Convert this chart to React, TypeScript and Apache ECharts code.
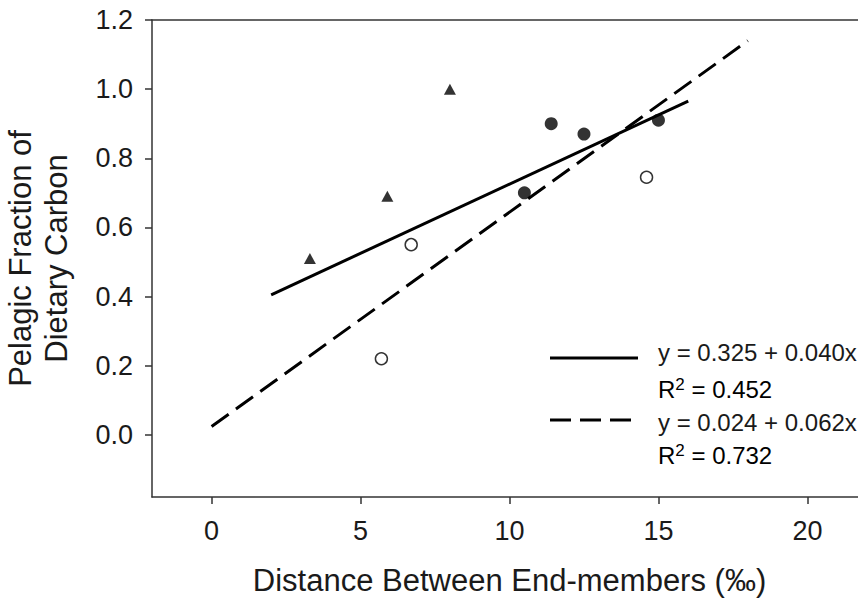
import React, { useEffect, useRef } from "react";
import * as echarts from "echarts";

// Data
const triangleX = [3.3, 5.9, 8.0];
const triangleY = [0.51, 0.69, 1.0];
const filledX = [10.5, 11.4, 12.5, 15.0];
const filledY = [0.7, 0.9, 0.87, 0.91];
const openX = [5.7, 6.7, 14.6];
const openY = [0.22, 0.55, 0.745];
const solidFitX = [2, 16];
const solidFitY = [0.405, 0.965];
const dashedFitX = [0, 18];
const dashedFitY = [0.024, 1.14];
const xTicks = [0, 5, 10, 15, 20];
const yTicks = [0, 0.2, 0.4, 0.6, 0.8, 1.0, 1.2];
const eqSolid = "y = 0.325 + 0.040x";
const r2Solid = "0.452";
const eqDashed = "y = 0.024 + 0.062x";
const r2Dashed = "0.732";
const xTitle = "Distance Between End-members (‰)";
const yTitle = "Pelagic Fraction of\nDietary Carbon";

const FONT = "'Liberation Sans', Arial, sans-serif";
const zip = (xs: number[], ys: number[]) => xs.map((x, i) => [x, ys[i]]);

export default function App() {
  const ref = useRef<HTMLDivElement>(null);
  useEffect(() => {
    document.body.style.margin = "0";
    document.body.style.overflow = "hidden";
    const chart = echarts.init(ref.current!, null, { renderer: "svg" });
    const axisCol = "#333";
    const txtCol = "#1a1a1a";
    const rich = {
      n: { fontSize: 24, fontFamily: FONT, color: txtCol, lineHeight: 27 },
      s: { fontSize: 17, fontFamily: FONT, color: txtCol, verticalAlign: "top", lineHeight: 27 },
    };
    chart.setOption({
      animation: false,
      backgroundColor: "#fff",
      grid: { left: 152, right: -9, top: 20, bottom: 103, containLabel: false, outerBoundsMode: "none" },
      xAxis: [
        {
          type: "value",
          min: -2,
          max: 22,
          name: xTitle,
          nameLocation: "middle",
          nameGap: 68,
          nameTextStyle: { fontSize: 31, fontFamily: FONT, color: txtCol },
          axisLine: { show: true, onZero: false, lineStyle: { color: axisCol, width: 1.5 } },
          axisTick: { show: true, length: 7, customValues: xTicks, lineStyle: { color: axisCol, width: 1.5 } },
          axisLabel: {
            customValues: xTicks,
            margin: 20,
            fontSize: 27,
            fontFamily: FONT,
            color: txtCol,
            formatter: (v: number) => String(v),
          },
          splitLine: { show: false },
        },
        {
          type: "value",
          position: "top",
          min: -2,
          max: 22,
          axisLine: { show: true, onZero: false, lineStyle: { color: axisCol, width: 1.5 } },
          axisTick: { show: false },
          axisLabel: { show: false },
          splitLine: { show: false },
        },
      ],
      yAxis: {
        type: "value",
        min: -0.18,
        max: 1.2,
        name: yTitle,
        nameLocation: "middle",
        nameGap: 78,
        nameRotate: 90,
        nameTextStyle: { fontSize: 31, fontFamily: FONT, color: txtCol, lineHeight: 36, align: "center" },
        axisLine: { show: true, onZero: false, lineStyle: { color: axisCol, width: 1.5 } },
        axisTick: { show: true, length: 7, customValues: yTicks, lineStyle: { color: axisCol, width: 1.5 } },
        axisLabel: {
          customValues: yTicks,
          margin: 19,
          fontSize: 27,
          fontFamily: FONT,
          color: txtCol,
          formatter: (v: number) => v.toFixed(1),
        },
        splitLine: { show: false },
      },
      series: [
        {
          type: "line",
          data: zip(solidFitX, solidFitY),
          showSymbol: false,
          symbol: "none",
          lineStyle: { color: "#000", width: 3 },
        },
        {
          type: "line",
          data: zip(dashedFitX, dashedFitY),
          showSymbol: false,
          symbol: "none",
          lineStyle: { color: "#000", width: 3, type: [21, 9] },
        },
        {
          type: "scatter",
          data: zip(triangleX, triangleY),
          symbol: "triangle",
          symbolSize: [12, 11],
          itemStyle: { color: "#000" },
        },
        {
          type: "scatter",
          data: zip(filledX, filledY),
          symbol: "circle",
          symbolSize: 13,
          itemStyle: { color: "#000" },
        },
        {
          type: "scatter",
          data: zip(openX, openY),
          symbol: "circle",
          symbolSize: 12,
          itemStyle: { color: "#fff", borderColor: "#000", borderWidth: 1.5 },
        },
      ],
      graphic: [
        { type: "line", shape: { x1: 550, y1: 358, x2: 638, y2: 358 }, style: { stroke: "#000", lineWidth: 3 } },
        {
          type: "line",
          shape: { x1: 550, y1: 420, x2: 638, y2: 420 },
          style: { stroke: "#000", lineWidth: 3, lineDash: [21, 9] },
        },
        {
          type: "text",
          x: 658,
          y: 352,
          style: { text: eqSolid, font: `24px ${FONT}`, fill: txtCol, verticalAlign: "middle", align: "left" },
        },
        {
          type: "text",
          x: 658,
          y: 389,
          style: { text: `{n|R}{s|2}{n| = ${r2Solid}}`, rich, verticalAlign: "middle", align: "left" },
        },
        {
          type: "text",
          x: 658,
          y: 422,
          style: { text: eqDashed, font: `24px ${FONT}`, fill: txtCol, verticalAlign: "middle", align: "left" },
        },
        {
          type: "text",
          x: 658,
          y: 455,
          style: { text: `{n|R}{s|2}{n| = ${r2Dashed}}`, rich, verticalAlign: "middle", align: "left" },
        },
      ],
    });
    return () => chart.dispose();
  }, []);
  return <div ref={ref} style={{ width: 858, height: 600 }} />;
}
